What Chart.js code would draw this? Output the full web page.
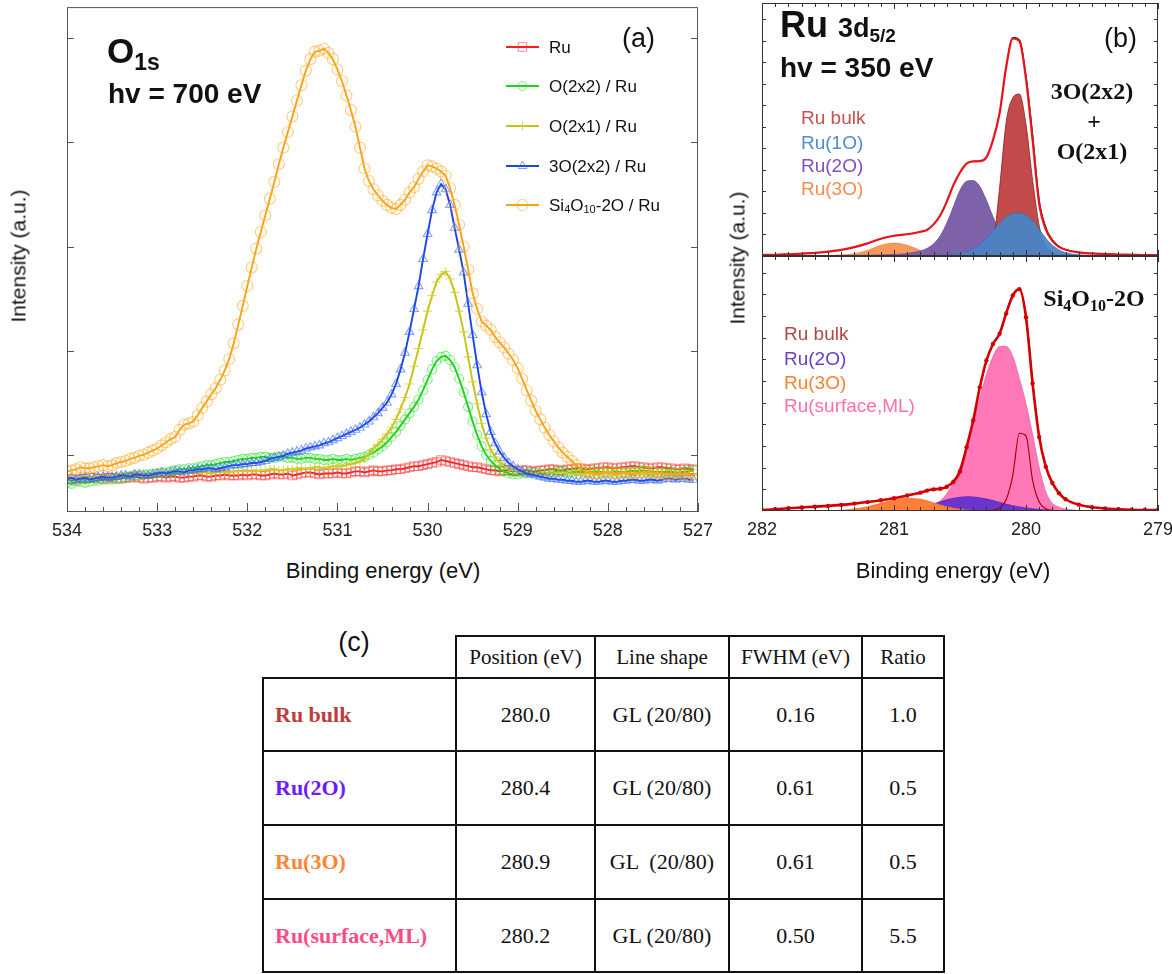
<!DOCTYPE html>
<html>
<head>
<meta charset="utf-8">
<title>O 1s and Ru 3d5/2 XPS</title>
<script src="https://cdn.jsdelivr.net/npm/chart.js@4.4.1/dist/chart.umd.min.js"></script>
<style>
  html, body { margin: 0; padding: 0; background: #fff; }
  body { position: relative; width: 1172px; height: 974px; overflow: hidden;
         font-family: "Liberation Sans", Arial, sans-serif; color: #111; }
  canvas { position: absolute; }
  .t { position: absolute; white-space: nowrap; line-height: 1; }
  .mid { transform: translate(-50%, -50%); }
  .lft { transform: translateY(-50%); }
  .vert { transform: translate(-50%, -50%) rotate(-90deg); }
  .b { font-weight: bold; }
  .serif { font-family: "Liberation Serif", "Times New Roman", serif; }
  sub { line-height: 0; }
  #fitTable { position: absolute; left: 262px; top: 635px; border-collapse: collapse; table-layout: fixed; width: 681px;
              font-family: "Liberation Serif", "Times New Roman", serif; color: #111; }
  #fitTable th, #fitTable td { border: 2px solid #111; text-align: center; font-weight: normal; padding: 0; white-space: pre; }
  #fitTable th { font-size: 21px; }
  #fitTable td { font-size: 22px; }
  #fitTable th.blank { border-top: none; border-left: none; }
  #fitTable td.name { text-align: left; padding-left: 11px; font-weight: bold; }
</style>
</head>
<body>
<canvas id="chartA" width="720" height="545" style="left:0;top:0"></canvas>
<canvas id="chartB1" width="436" height="258" style="left:740px;top:0"></canvas>
<canvas id="chartB2" width="436" height="300" style="left:740px;top:250px"></canvas>

<!-- panel (a) text -->
<div class="t vert" style="left:18px;top:256px;font-size:21px">Intensity (a.u.)</div>
<div class="t mid" style="left:383px;top:571px;font-size:22px">Binding energy (eV)</div>
<div class="t lft b" style="left:107px;top:50px;font-size:35px">O<sub style="font-size:23px;vertical-align:-7px">1s</sub></div>
<div class="t lft b" style="left:108px;top:94px;font-size:28px">hv = 700 eV</div>
<div class="t lft" style="left:622px;top:38px;font-size:27px">(a)</div>
<div id="legendA"></div>

<!-- panel (b) text -->
<div class="t vert" style="left:737px;top:258px;font-size:21px">Intensity (a.u.)</div>
<div class="t mid" style="left:953px;top:571px;font-size:22px">Binding energy (eV)</div>
<div class="t lft b" style="left:780px;top:25px;font-size:36px">Ru <span style="font-size:27px">3d<sub style="font-size:19px;vertical-align:-5px">5/2</sub></span></div>
<div class="t lft b" style="left:780px;top:68px;font-size:28px">hv = 350 eV</div>
<div class="t lft" style="left:1104px;top:38px;font-size:27px">(b)</div>
<div class="t mid b serif" style="left:1092px;top:91px;font-size:24px">3O(2x2)</div>
<div class="t mid b serif" style="left:1094px;top:121px;font-size:24px">+</div>
<div class="t mid b serif" style="left:1092px;top:151px;font-size:24px">O(2x1)</div>
<div class="t mid b serif" style="left:1094px;top:298px;font-size:24px">Si<sub style="font-size:16px;vertical-align:-5px">4</sub>O<sub style="font-size:16px;vertical-align:-5px">10</sub>-2O</div>
<div id="legendB"></div>

<!-- panel (c) -->
<div class="t mid" style="left:354px;top:642px;font-size:27px">(c)</div>
<table id="fitTable"></table>

<script>
// ---------- (a) O 1s, hv = 700 eV : binding energy (eV), intensity (a.u.) ----------
const o1sEnergy = [
  534.00, 533.95, 533.90, 533.85, 533.80, 533.75, 533.70, 533.65, 533.60, 533.55,
  533.50, 533.45, 533.40, 533.35, 533.30, 533.25, 533.20, 533.15, 533.10, 533.05,
  533.00, 532.95, 532.90, 532.85, 532.80, 532.75, 532.70, 532.65, 532.60, 532.55,
  532.50, 532.45, 532.40, 532.35, 532.30, 532.25, 532.20, 532.15, 532.10, 532.05,
  532.00, 531.95, 531.90, 531.85, 531.80, 531.75, 531.70, 531.65, 531.60, 531.55,
  531.50, 531.45, 531.40, 531.35, 531.30, 531.25, 531.20, 531.15, 531.10, 531.05,
  531.00, 530.95, 530.90, 530.85, 530.80, 530.75, 530.70, 530.65, 530.60, 530.55,
  530.50, 530.45, 530.40, 530.35, 530.30, 530.25, 530.20, 530.15, 530.10, 530.05,
  530.00, 529.95, 529.90, 529.85, 529.80, 529.75, 529.70, 529.65, 529.60, 529.55,
  529.50, 529.45, 529.40, 529.35, 529.30, 529.25, 529.20, 529.15, 529.10, 529.05,
  529.00, 528.95, 528.90, 528.85, 528.80, 528.75, 528.70, 528.65, 528.60, 528.55,
  528.50, 528.45, 528.40, 528.35, 528.30, 528.25, 528.20, 528.15, 528.10, 528.05,
  528.00, 527.95, 527.90, 527.85, 527.80, 527.75, 527.70, 527.65, 527.60, 527.55,
  527.50, 527.45, 527.40, 527.35, 527.30, 527.25, 527.20, 527.15, 527.10, 527.05
];
const o1sRu = [
  0.77, 0.76, 0.76, 0.77, 0.77, 0.78, 0.78, 0.77, 0.77, 0.78,
  0.78, 0.77, 0.77, 0.78, 0.78, 0.79, 0.78, 0.77, 0.78, 0.78,
  0.79, 0.79, 0.78, 0.79, 0.79, 0.78, 0.78, 0.79, 0.79, 0.80,
  0.80, 0.79, 0.79, 0.80, 0.80, 0.81, 0.80, 0.80, 0.80, 0.81,
  0.80, 0.81, 0.81, 0.80, 0.80, 0.81, 0.82, 0.81, 0.81, 0.82,
  0.80, 0.81, 0.82, 0.83, 0.83, 0.82, 0.81, 0.82, 0.82, 0.82,
  0.83, 0.82, 0.82, 0.83, 0.84, 0.84, 0.83, 0.84, 0.85, 0.84,
  0.84, 0.85, 0.85, 0.86, 0.86, 0.87, 0.88, 0.89, 0.89, 0.90,
  0.91, 0.92, 0.93, 0.95, 0.94, 0.93, 0.92, 0.91, 0.90, 0.89,
  0.88, 0.88, 0.87, 0.86, 0.85, 0.85, 0.84, 0.85, 0.85, 0.84,
  0.84, 0.85, 0.85, 0.84, 0.84, 0.85, 0.85, 0.86, 0.86, 0.85,
  0.85, 0.86, 0.86, 0.87, 0.87, 0.86, 0.86, 0.87, 0.87, 0.88,
  0.88, 0.87, 0.87, 0.88, 0.88, 0.89, 0.89, 0.88, 0.88, 0.87,
  0.87, 0.88, 0.88, 0.87, 0.87, 0.86, 0.86, 0.87, 0.86, 0.86
];
const o1sO2x2 = [
  0.73, 0.72, 0.74, 0.74, 0.73, 0.74, 0.75, 0.75, 0.76, 0.76,
  0.76, 0.77, 0.78, 0.78, 0.79, 0.80, 0.80, 0.81, 0.81, 0.82,
  0.82, 0.83, 0.83, 0.84, 0.85, 0.86, 0.86, 0.87, 0.87, 0.88,
  0.89, 0.90, 0.90, 0.91, 0.92, 0.93, 0.93, 0.94, 0.95, 0.96,
  0.96, 0.97, 0.97, 0.98, 0.98, 0.97, 0.97, 0.98, 0.98, 0.97,
  0.97, 0.96, 0.96, 0.97, 0.97, 0.96, 0.96, 0.95, 0.95, 0.96,
  0.95, 0.95, 0.96, 0.95, 0.96, 0.97, 0.98, 1.00, 1.02, 1.05,
  1.08, 1.12, 1.17, 1.22, 1.28, 1.34, 1.40, 1.46, 1.53, 1.62,
  1.72, 1.82, 1.90, 1.94, 1.95, 1.91, 1.84, 1.73, 1.60, 1.46,
  1.32, 1.19, 1.08, 1.00, 0.94, 0.90, 0.86, 0.84, 0.82, 0.81,
  0.81, 0.82, 0.82, 0.83, 0.83, 0.82, 0.82, 0.83, 0.83, 0.84,
  0.84, 0.83, 0.83, 0.84, 0.84, 0.83, 0.83, 0.84, 0.84, 0.83,
  0.83, 0.84, 0.84, 0.83, 0.83, 0.84, 0.84, 0.85, 0.85, 0.84,
  0.84, 0.83, 0.83, 0.84, 0.84, 0.83, 0.83, 0.84, 0.84, 0.85
];
const o1sO2x1 = [
  0.78, 0.77, 0.77, 0.78, 0.79, 0.78, 0.78, 0.79, 0.79, 0.80,
  0.80, 0.79, 0.79, 0.80, 0.80, 0.81, 0.81, 0.80, 0.80, 0.81,
  0.81, 0.82, 0.82, 0.81, 0.81, 0.82, 0.82, 0.83, 0.83, 0.82,
  0.83, 0.83, 0.82, 0.83, 0.84, 0.83, 0.83, 0.84, 0.84, 0.85,
  0.85, 0.84, 0.84, 0.85, 0.85, 0.86, 0.86, 0.85, 0.85, 0.86,
  0.86, 0.87, 0.87, 0.86, 0.87, 0.88, 0.88, 0.87, 0.88, 0.89,
  0.89, 0.89, 0.90, 0.91, 0.92, 0.94, 0.96, 1.01, 1.06, 1.10,
  1.15, 1.20, 1.26, 1.34, 1.44, 1.55, 1.68, 1.85, 2.02, 2.20,
  2.38, 2.53, 2.66, 2.73, 2.76, 2.69, 2.56, 2.38, 2.18, 1.94,
  1.70, 1.49, 1.30, 1.16, 1.05, 0.98, 0.93, 0.90, 0.87, 0.85,
  0.84, 0.83, 0.83, 0.82, 0.82, 0.83, 0.83, 0.82, 0.82, 0.83,
  0.83, 0.82, 0.82, 0.81, 0.81, 0.82, 0.82, 0.81, 0.81, 0.82,
  0.82, 0.81, 0.81, 0.82, 0.82, 0.81, 0.81, 0.82, 0.82, 0.81,
  0.81, 0.82, 0.82, 0.81, 0.81, 0.80, 0.80, 0.81, 0.81, 0.80
];
const o1s3O2x2 = [
  0.77, 0.78, 0.76, 0.77, 0.78, 0.76, 0.77, 0.78, 0.79, 0.78,
  0.78, 0.79, 0.80, 0.80, 0.79, 0.81, 0.81, 0.80, 0.80, 0.81,
  0.82, 0.83, 0.82, 0.83, 0.84, 0.84, 0.83, 0.85, 0.85, 0.86,
  0.86, 0.87, 0.87, 0.86, 0.87, 0.88, 0.89, 0.90, 0.90, 0.91,
  0.91, 0.92, 0.92, 0.93, 0.94, 0.96, 0.97, 0.98, 0.99, 1.01,
  1.02, 1.03, 1.04, 1.06, 1.07, 1.08, 1.09, 1.11, 1.12, 1.14,
  1.16, 1.18, 1.20, 1.22, 1.24, 1.26, 1.29, 1.32, 1.36, 1.40,
  1.45, 1.50, 1.58, 1.68, 1.82, 1.98, 2.18, 2.40, 2.62, 2.88,
  3.12, 3.35, 3.52, 3.60, 3.55, 3.40, 3.18, 2.97, 2.75, 2.45,
  2.15, 1.86, 1.60, 1.39, 1.22, 1.11, 1.03, 0.97, 0.92, 0.89,
  0.86, 0.84, 0.82, 0.81, 0.80, 0.79, 0.78, 0.77, 0.77, 0.76,
  0.76, 0.75, 0.75, 0.74, 0.74, 0.75, 0.75, 0.74, 0.74, 0.75,
  0.75, 0.74, 0.74, 0.75, 0.75, 0.76, 0.76, 0.75, 0.75, 0.76,
  0.76, 0.75, 0.76, 0.77, 0.77, 0.76, 0.77, 0.77, 0.76, 0.76
];
const o1sSi4O10 = [
  0.84, 0.85, 0.86, 0.88, 0.87, 0.87, 0.88, 0.89, 0.90, 0.89,
  0.90, 0.92, 0.93, 0.94, 0.96, 0.97, 0.99, 1.00, 1.02, 1.04,
  1.06, 1.09, 1.12, 1.15, 1.17, 1.24, 1.29, 1.30, 1.32, 1.38,
  1.45, 1.51, 1.58, 1.64, 1.72, 1.81, 1.92, 2.07, 2.25, 2.43,
  2.62, 2.80, 2.98, 3.14, 3.30, 3.46, 3.62, 3.79, 3.95, 4.10,
  4.25, 4.40, 4.55, 4.69, 4.80, 4.87, 4.88, 4.90, 4.86, 4.80,
  4.70, 4.59, 4.45, 4.31, 4.15, 3.95, 3.75, 3.63, 3.55, 3.49,
  3.44, 3.40, 3.37, 3.36, 3.40, 3.45, 3.52, 3.57, 3.65, 3.72,
  3.78, 3.77, 3.75, 3.72, 3.68, 3.56, 3.40, 3.21, 3.00, 2.78,
  2.55, 2.40, 2.28, 2.24, 2.20, 2.13, 2.08, 2.03, 1.97, 1.91,
  1.83, 1.73, 1.62, 1.52, 1.42, 1.34, 1.26, 1.19, 1.13, 1.07,
  1.02, 0.98, 0.94, 0.90, 0.86, 0.84, 0.83, 0.82, 0.82, 0.83,
  0.84, 0.83, 0.82, 0.83, 0.83, 0.82, 0.82, 0.83, 0.84, 0.83,
  0.83, 0.82, 0.82, 0.81, 0.81, 0.82, 0.82, 0.81, 0.80, 0.81
];
const o1sLabels = ['Ru', 'O(2x2) / Ru', 'O(2x1) / Ru', '3O(2x2) / Ru', 'Si<sub>4</sub>O<sub>10</sub>-2O / Ru'];
const o1sTicks = [527, 528, 529, 530, 531, 532, 533, 534];

// ---------- (b) Ru 3d5/2, hv = 350 eV ----------
const ruEnergy = [
  282.0, 281.9, 281.8, 281.7, 281.6, 281.5, 281.4, 281.3, 281.2, 281.1, 281.0, 280.9, 280.8,
  280.75, 280.7, 280.65, 280.6, 280.55, 280.5, 280.45, 280.4, 280.35, 280.3, 280.25,
  280.2, 280.15, 280.1, 280.05, 280.0, 279.95, 279.9, 279.85, 279.8, 279.75, 279.7,
  279.6, 279.5, 279.4, 279.3, 279.2, 279.1, 279.0
];
// upper panel: 3O(2x2) + O(2x1)
const topData = [
  0.4, 0.5, 0.7, 0.9, 1.2, 1.7, 2.4, 3.5, 5.0, 6.8, 8.0, 8.6, 9.6,
  10.3, 12.5, 16.0, 21.5, 28.0, 33.0, 36.5, 37.4, 37.5, 39.0, 45.8,
  56.5, 74.7, 86.0, 85.0, 70.0, 45.8, 20.5, 10.5, 6.0, 3.6, 2.5,
  1.4, 1.0, 0.8, 0.6, 0.5, 0.4, 0.4
];
const topFit = [
  0.4, 0.5, 0.7, 0.9, 1.2, 1.7, 2.4, 3.5, 5.0, 6.8, 8.0, 8.6, 9.6,
  10.3, 12.5, 16.0, 21.5, 28.0, 33.0, 36.5, 37.4, 37.5, 39.0, 45.8,
  56.5, 74.7, 86.4, 85.6, 71.5, 48.5, 22.5, 11.6, 6.6, 3.9, 2.6,
  1.4, 1.0, 0.8, 0.6, 0.5, 0.4, 0.4
];
const topBulk = [
  0, 0, 0, 0, 0, 0, 0, 0, 0, 0, 0, 0, 0,
  0, 0, 0, 0, 0, 0, 0, 0.1, 0.5, 1.5, 5.0,
  27.0, 53.0, 62.5, 64.0, 52.0, 30.0, 12.0, 4.0, 1.5, 0.5, 0.2,
  0, 0, 0, 0, 0, 0, 0
];
const top1O = [
  0, 0, 0, 0, 0, 0, 0, 0, 0, 0, 0, 0, 0.1,
  0.1, 0.2, 0.3, 0.4, 0.6, 1.0, 1.7, 2.8, 4.5, 7.0, 10.0,
  13.0, 15.5, 16.8, 17.0, 16.2, 14.0, 10.5, 7.0, 4.2, 2.4, 1.3,
  0.4, 0.1, 0, 0, 0, 0, 0
];
const top2O = [
  0, 0, 0, 0, 0.05, 0.08, 0.1, 0.2, 0.3, 0.4, 0.6, 1.0, 2.0,
  3.0, 4.8, 8.0, 13.0, 19.5, 26.0, 29.5, 29.8, 27.5, 22.0, 15.5,
  10.0, 6.3, 4.2, 3.0, 2.3, 1.8, 1.4, 1.1, 0.9, 0.7, 0.5,
  0.35, 0.25, 0.2, 0.15, 0.1, 0.05, 0
];
const top3O = [
  0, 0, 0, 0, 0.1, 0.2, 0.4, 0.9, 2.2, 4.2, 5.1, 4.2, 2.2,
  1.4, 0.9, 0.6, 0.4, 0.3, 0.2, 0.1, 0, 0, 0, 0,
  0, 0, 0, 0, 0, 0, 0, 0, 0, 0, 0,
  0, 0, 0, 0, 0, 0, 0
];
// lower panel: Si4O10-2O
const botData = [
  0.4, 0.7, 1.1, 1.4, 1.7, 2.0, 2.4, 2.9, 3.5, 4.2, 5.0, 6.1, 7.2,
  8.0, 8.5, 8.7, 9.5, 11.5, 15.5, 25.0, 35.5, 48.5, 59.0, 65.5,
  69.5, 77.5, 84.5, 87.0, 76.0, 50.0, 29.0, 17.4, 11.0, 7.0, 4.6,
  2.5, 1.5, 1.0, 0.7, 0.5, 0.4, 0.4
];
const botFit = [
  0.4, 0.7, 1.1, 1.4, 1.7, 2.0, 2.4, 2.9, 3.5, 4.2, 5.0, 6.0, 7.1,
  7.9, 8.4, 8.8, 9.6, 11.8, 16.2, 25.5, 36.0, 48.0, 58.5, 65.0,
  70.0, 78.0, 85.0, 86.8, 77.0, 51.5, 29.5, 17.0, 10.6, 6.8, 4.5,
  2.4, 1.5, 1.0, 0.7, 0.5, 0.4, 0.4
];
const botBulk = [
  0, 0, 0, 0, 0, 0, 0, 0, 0, 0, 0, 0, 0,
  0, 0, 0, 0, 0, 0, 0, 0, 0, 0, 0.3,
  1.2, 4.5, 14.0, 30.5, 29.5, 12.0, 3.5, 0.9, 0.2, 0, 0,
  0, 0, 0, 0, 0, 0, 0
];
const bot2O = [
  0, 0, 0, 0, 0, 0, 0, 0, 0, 0.15, 0.3, 0.6, 1.4,
  2.0, 2.8, 3.6, 4.4, 5.0, 5.4, 5.6, 5.5, 5.2, 4.7, 4.1,
  3.4, 2.7, 2.1, 1.6, 1.2, 0.9, 0.6, 0.45, 0.3, 0.2, 0.1,
  0, 0, 0, 0, 0, 0, 0
];
const bot3O = [
  0, 0, 0, 0, 0.05, 0.1, 0.3, 0.8, 1.7, 3.0, 4.3, 5.0, 4.6,
  4.0, 3.2, 2.4, 1.7, 1.1, 0.7, 0.4, 0.2, 0.1, 0, 0,
  0, 0, 0, 0, 0, 0, 0, 0, 0, 0, 0,
  0, 0, 0, 0, 0, 0, 0
];
const botSurf = [
  0, 0, 0, 0, 0, 0, 0, 0, 0, 0, 0, 0.2, 0.5,
  1.0, 2.1, 3.9, 6.8, 11.2, 17.4, 25.3, 34.5, 44.3, 53.5, 60.6,
  64.5, 64.5, 60.6, 52.0, 42.0, 30.0, 17.0, 7.5, 3.0, 1.5, 0.8,
  0.2, 0, 0, 0, 0, 0, 0
];
const topLabels = ['Ru bulk', 'Ru(1O)', 'Ru(2O)', 'Ru(3O)'];
const botLabels = ['Ru bulk', 'Ru(2O)', 'Ru(3O)', 'Ru(surface,ML)'];
const ruTicks = [279, 280, 281, 282];

// ---------- (c) fit parameters ----------
const fitHeaders = ['Position (eV)', 'Line shape', 'FWHM (eV)', 'Ratio'];
const fitComponents = ['Ru bulk', 'Ru(2O)', 'Ru(3O)', 'Ru(surface,ML)'];
const fitPosition = ['280.0', '280.4', '280.9', '280.2'];
const fitLineShape = ['GL (20/80)', 'GL (20/80)', 'GL  (20/80)', 'GL (20/80)'];
const fitFwhm = ['0.16', '0.61', '0.61', '0.50'];
const fitRatio = ['1.0', '0.5', '0.5', '5.5'];

// -------------------------------------------------------------------
const pts = (xs, ys) => xs.map((x, i) => ({ x: x, y: ys[i] }));
const tickFont = { family: "'Liberation Sans', Arial, sans-serif", size: 18 };

function drawMarker(ctx, style, x, y, r) {
  ctx.beginPath();
  if (style === 'rect') {
    const s = r * Math.SQRT1_2;
    ctx.rect(x - s, y - s, 2 * s, 2 * s);
  } else if (style === 'triangle') {
    ctx.moveTo(x, y - r);
    ctx.lineTo(x + r * 0.866, y + r * 0.5);
    ctx.lineTo(x - r * 0.866, y + r * 0.5);
    ctx.closePath();
  } else if (style === 'cross') {
    ctx.moveTo(x, y - r); ctx.lineTo(x, y + r);
    ctx.moveTo(x - r, y); ctx.lineTo(x + r, y);
  } else {
    ctx.arc(x, y, r, 0, Math.PI * 2);
  }
  ctx.stroke();
}

// box around the plot area with inward ticks
const framePlugin = {
  id: 'frame',
  afterDraw(chart, args, o) {
    const { ctx, chartArea: a } = chart;
    const xs = chart.scales.x, ys = chart.scales.y;
    ctx.save();
    ctx.strokeStyle = o.color;
    ctx.lineWidth = 1;
    ctx.strokeRect(a.left + 0.5, a.top + 0.5, a.right - a.left - 1, a.bottom - a.top - 1);
    ctx.beginPath();
    const n = Math.round((xs.max - xs.min) / o.xStep);
    for (let i = 0; i <= n; i++) {
      const px = Math.round(xs.getPixelForValue(xs.min + i * o.xStep)) + 0.5;
      const len = i % o.xMajorEvery === 0 ? o.xMajorLen : o.xMinorLen;
      ctx.moveTo(px, a.bottom); ctx.lineTo(px, a.bottom - len);
      if (o.xTop) { ctx.moveTo(px, a.top); ctx.lineTo(px, a.top + len); }
    }
    for (let v = o.yStart; v < ys.max; v += o.yStep) {
      const py = Math.round(ys.getPixelForValue(v)) + 0.5;
      ctx.moveTo(a.left, py); ctx.lineTo(a.left + o.yLen, py);
      ctx.moveTo(a.right, py); ctx.lineTo(a.right - o.yLen, py);
    }
    ctx.stroke();
    ctx.restore();
  }
};

// line + marker samples for the (a) legend
const glyphPlugin = {
  id: 'glyphs',
  afterDraw(chart, args, o) {
    const ctx = chart.ctx;
    chart.data.datasets.forEach((ds, i) => {
      const y = o.rows[i];
      ctx.save();
      ctx.strokeStyle = ds.borderColor;
      ctx.lineWidth = 2;
      ctx.beginPath(); ctx.moveTo(o.x0, y); ctx.lineTo(o.x1, y); ctx.stroke();
      ctx.strokeStyle = ds.pointBorderColor;
      ctx.lineWidth = 1;
      drawMarker(ctx, ds.pointStyle, (o.x0 + o.x1) / 2, y, ds.pointRadius);
      ctx.restore();
    });
  }
};

// ---------- chart (a) ----------
const o1sSets = [o1sRu, o1sO2x2, o1sO2x1, o1s3O2x2, o1sSi4O10];
const o1sLook = [
  { line: '#ff1e1e', mark: 'rgba(245,60,60,0.6)', style: 'rect', r: 6, order: 4 },
  { line: '#18d418', mark: 'rgba(40,225,40,0.6)', style: 'circle', r: 4.5, order: 3 },
  { line: '#c4c418', mark: 'rgba(205,205,40,0.75)', style: 'cross', r: 4.5, order: 2 },
  { line: '#1c44e8', mark: 'rgba(50,100,245,0.6)', style: 'triangle', r: 5, order: 1 },
  { line: '#ffa010', mark: 'rgba(255,170,40,0.6)', style: 'circle', r: 5.5, order: 0 }
];
const legendRowsA = [47, 86, 126, 166, 205];

new Chart(document.getElementById('chartA'), {
  type: 'line',
  data: {
    datasets: o1sSets.map((vals, i) => ({
      label: o1sLabels[i],
      data: pts(o1sEnergy, vals),
      borderColor: o1sLook[i].line,
      borderWidth: 1.9,
      pointStyle: o1sLook[i].style,
      pointRadius: o1sLook[i].r,
      pointBorderColor: o1sLook[i].mark,
      pointBackgroundColor: 'rgba(0,0,0,0)',
      pointBorderWidth: 1.1,
      tension: 0,
      fill: false,
      order: o1sLook[i].order
    }))
  },
  options: {
    responsive: false,
    animation: false,
    events: [],
    layout: { padding: { left: 67, right: 22, top: 3, bottom: 0 } },
    plugins: {
      legend: { display: false },
      tooltip: { enabled: false },
      frame: { color: '#555', xStep: 0.2, xMajorEvery: 5, xMajorLen: 9, xMinorLen: 5, xTop: false, yStart: 1, yStep: 1, yLen: 7 },
      glyphs: { x0: 506, x1: 539, rows: legendRowsA }
    },
    scales: {
      x: {
        type: 'linear', reverse: true, min: 527, max: 534,
        grid: { display: false, drawTicks: false },
        border: { display: false },
        afterBuildTicks: s => { s.ticks = o1sTicks.map(v => ({ value: v })); },
        ticks: { padding: 8, color: '#222', font: tickFont, autoSkip: false, maxRotation: 0, callback: v => v.toFixed(0) },
        afterFit: s => { s.height = 33; }
      },
      y: { display: false, min: 0.45, max: 5.3 }
    }
  },
  plugins: [framePlugin, glyphPlugin]
});

document.getElementById('legendA').innerHTML = o1sLabels.map((l, i) =>
  `<div class="t lft" style="left:549px;top:${legendRowsA[i]}px;font-size:17px">${l.replace(/<sub>/g, '<sub style="font-size:11px;vertical-align:-2px">')}</div>`
).join('');

// ---------- chart (b) ----------
function ruOptions(showX, pad, xHeight) {
  return {
    responsive: false,
    animation: false,
    events: [],
    layout: { padding: pad },
    plugins: {
      legend: { display: false },
      tooltip: { enabled: false },
      frame: { color: '#333', xStep: 0.1, xMajorEvery: 10, xMajorLen: 6, xMinorLen: 4, xTop: true, yStart: 8.5, yStep: 8.5, yLen: 4 }
    },
    scales: {
      x: {
        type: 'linear', reverse: true, min: 279, max: 282, display: showX,
        grid: { display: false, drawTicks: false },
        border: { display: false },
        afterBuildTicks: s => { s.ticks = ruTicks.map(v => ({ value: v })); },
        ticks: { padding: 8, color: '#222', font: tickFont, autoSkip: false, maxRotation: 0, callback: v => v.toFixed(0) },
        afterFit: s => { if (xHeight) s.height = xHeight; }
      },
      y: { display: false, min: 0, max: 100 }
    }
  };
}

function band(vals, fillColor, lineColor, order) {
  return {
    data: pts(ruEnergy, vals), fill: 'origin', backgroundColor: fillColor,
    borderColor: lineColor, borderWidth: 0.8, pointRadius: 0,
    cubicInterpolationMode: 'monotone', order: order
  };
}
function curve(vals, color, width, order, dots) {
  return {
    data: pts(ruEnergy, vals), fill: false, borderColor: color, borderWidth: width,
    pointRadius: dots || 0, pointBackgroundColor: color, pointBorderWidth: 0,
    cubicInterpolationMode: 'monotone', order: order
  };
}

new Chart(document.getElementById('chartB1'), {
  type: 'line',
  data: {
    datasets: [
      band(top3O, '#f8995c', '#ee8444', 6),
      band(top2O, '#7e62a9', '#6a4f96', 5),
      band(topBulk, '#c24a4a', '#8e1c1c', 4),
      band(top1O, 'rgba(72,132,200,0.92)', '#3b6fae', 3),
      curve(topFit, '#111', 1, 2),
      curve(topData, '#e8141a', 2.2, 1)
    ]
  },
  options: ruOptions(false, { left: 22, right: 18, top: 3, bottom: 2 }, 0),
  plugins: [framePlugin]
});

new Chart(document.getElementById('chartB2'), {
  type: 'line',
  data: {
    datasets: [
      band(botSurf, '#ff78b8', '#f060a0', 7),
      band(bot2O, '#6a35cc', '#5a28b8', 6),
      band(bot3O, '#ff7f3a', '#f07030', 5),
      curve(botBulk, '#a00000', 1.1, 4),
      curve(botFit, '#111', 1, 3),
      curve(botData, '#d40000', 2.6, 2, 2.2)
    ]
  },
  options: ruOptions(true, { left: 22, right: 18, top: 6, bottom: 0 }, 39),
  plugins: [framePlugin]
});

const topColors = ['#c8504f', '#4f8cd2', '#8250be', '#f78c50'];
const botColors = ['#b44646', '#6a3fd0', '#ff8030', '#ff6fae'];
const topRows = [117, 142, 165, 188];
const botRows = [333, 358, 382, 405];
document.getElementById('legendB').innerHTML =
  topLabels.map((l, i) => `<div class="t lft" style="left:801px;top:${topRows[i]}px;font-size:19px;color:${topColors[i]}">${l}</div>`).join('') +
  botLabels.map((l, i) => `<div class="t lft" style="left:784px;top:${botRows[i]}px;font-size:19px;color:${botColors[i]}">${l}</div>`).join('');

// ---------- table (c) ----------
const nameColors = ['#bf3b3b', '#6a1cff', '#ff8533', '#ff4a86'];
const rowHeights = [73, 74, 74, 73];
let rows = '<colgroup><col style="width:193px"><col style="width:139px"><col style="width:134px"><col style="width:133px"><col style="width:82px"></colgroup>';
rows += '<tr style="height:42px"><th class="blank"></th>' + fitHeaders.map(h => `<th>${h}</th>`).join('') + '</tr>';
fitComponents.forEach((c, i) => {
  rows += `<tr style="height:${rowHeights[i]}px"><td class="name" style="color:${nameColors[i]}">${c}</td>` +
    `<td>${fitPosition[i]}</td><td>${fitLineShape[i]}</td><td>${fitFwhm[i]}</td><td>${fitRatio[i]}</td></tr>`;
});
document.getElementById('fitTable').innerHTML = rows;
</script>
</body>
</html>
